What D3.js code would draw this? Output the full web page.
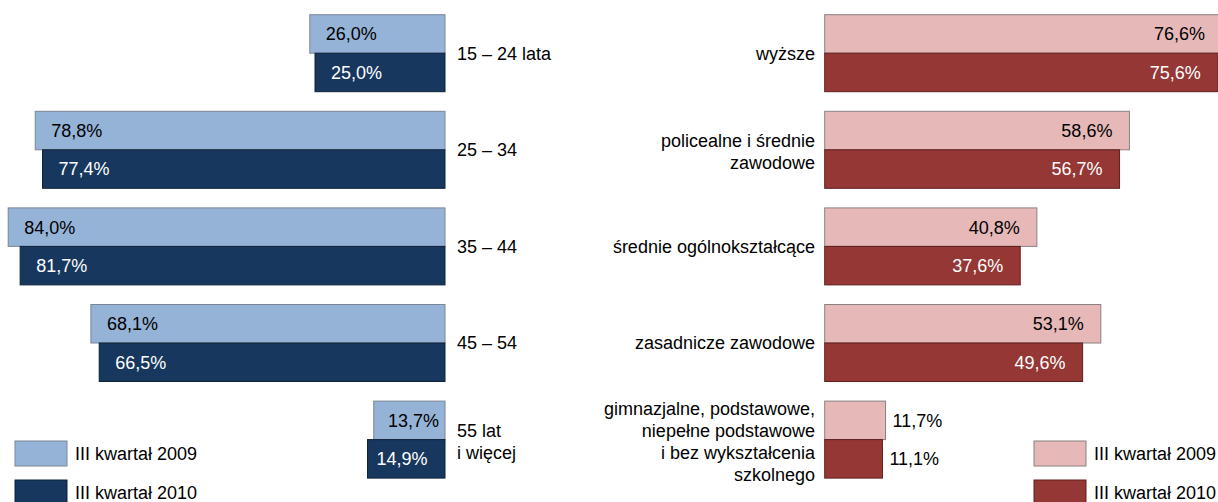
<!DOCTYPE html>
<html>
<head>
<meta charset="utf-8">
<script src="https://cdn.jsdelivr.net/npm/d3@7"></script>
<style>
  html, body { margin: 0; padding: 0; background: #fff; }
  svg { display: block; }
  text { font-family: "Liberation Sans", Arial, sans-serif; font-size: 18px; }
</style>
</head>
<body>
<svg id="chart" width="1218" height="502"></svg>
<script>
// ---- data ----
const ageCategories = ["15 – 24 lata", "25 – 34", "35 – 44", "45 – 54", "55 lat\ni więcej"];
const age2009 = [26.0, 78.8, 84.0, 68.1, 13.7];
const age2010 = [25.0, 77.4, 81.7, 66.5, 14.9];

const eduCategories = [
  "wyższe",
  "policealne i średnie\nzawodowe",
  "średnie ogólnokształcące",
  "zasadnicze zawodowe",
  "gimnazjalne, podstawowe,\nniepełne podstawowe\ni bez wykształcenia\nszkolnego"
];
const edu2009 = [76.6, 58.6, 40.8, 53.1, 11.7];
const edu2010 = [75.6, 56.7, 37.6, 49.6, 11.1];

const seriesNames = ["III kwartał 2009", "III kwartał 2010"];

// ---- styles ----
const leftFill = ["#95b3d7", "#17375e"];
const leftStroke = ["#7a8596", "#0e2238"];
const rightFill = ["#e6b9b8", "#953735"];
const rightStroke = ["#8a8080", "#5e1f1e"];
const labelColor = ["#000", "#fff"];

const svg = d3.select("#chart");
const fmt = v => d3.format(".1f")(v).replace(".", ",") + "%";

const y = d3.scaleBand().domain(d3.range(5)).range([4.9, 487.9])
  .paddingInner(0.203).paddingOuter(0.1015);
const ySub = d3.scaleBand().domain([0, 1]).range([0, y.bandwidth()]);

const xL = d3.scaleLinear().domain([0, 100]).range([445, 445 - 520]);
const xR = d3.scaleLinear().domain([0, 100]).range([824.7, 824.7 + 520]);

const baseShift = 6.4;

function drawPanel(side, cats, s1, s2) {
  const x = side === "left" ? xL : xR;
  const fill = side === "left" ? leftFill : rightFill;
  const stroke = side === "left" ? leftStroke : rightStroke;
  const series = [s1, s2];
  const g = svg.append("g");

  series.forEach((vals, si) => {
    const rows = vals.map((v, i) => ({ v, i }));
    g.selectAll(null).data(rows).enter().append("rect")
      .attr("x", d => Math.min(x(0), x(d.v)))
      .attr("y", d => y(d.i) + ySub(si))
      .attr("width", d => Math.abs(x(d.v) - x(0)))
      .attr("height", ySub.bandwidth())
      .attr("fill", fill[si])
      .attr("stroke", stroke[si])
      .attr("stroke-width", 1);

    g.selectAll(null).data(rows).enter().append("text")
      .attr("y", d => y(d.i) + ySub(si) + ySub.bandwidth() / 2 + baseShift)
      .each(function (d) {
        const t = d3.select(this);
        const w = Math.abs(x(d.v) - x(0));
        if (side === "left") {
          if (w < 100) {
            if (si === 0) t.attr("x", x(0) - 6).attr("text-anchor", "end");
            else t.attr("x", x(d.v) + 9).attr("text-anchor", "start");
            t.attr("fill", labelColor[si]);
          } else {
            t.attr("x", x(d.v) + 16).attr("text-anchor", "start").attr("fill", labelColor[si]);
          }
        } else {
          if (w < 100) {
            t.attr("x", x(d.v) + 7).attr("text-anchor", "start").attr("fill", "#000");
          } else {
            t.attr("x", Math.min(x(d.v), 1222) - 17).attr("text-anchor", "end").attr("fill", labelColor[si]);
          }
        }
      })
      .text(d => fmt(d.v));
  });

  // category labels
  const lineH = 22;
  cats.forEach((c, i) => {
    const lines = c.split("\n");
    const cy = y(i) + y.bandwidth() / 2 + (lines.length > 1 ? 2 : 0);
    const t = g.append("text")
      .attr("text-anchor", side === "left" ? "start" : "end")
      .attr("fill", "#000");
    lines.forEach((ln, li) => {
      t.append("tspan")
        .attr("x", side === "left" ? 457 : 815)
        .attr("y", cy + (li - (lines.length - 1) / 2) * lineH + baseShift)
        .text(ln);
    });
  });
}

drawPanel("left", ageCategories, age2009, age2010);
drawPanel("right", eduCategories, edu2009, edu2010);

// legends
function legend(x0, fill, stroke) {
  const g = svg.append("g");
  const ys = [441, 480];
  seriesNames.forEach((n, i) => {
    g.append("rect").attr("x", x0).attr("y", ys[i]).attr("width", 52).attr("height", 25)
      .attr("fill", fill[i]).attr("stroke", stroke[i]);
    g.append("text").attr("x", x0 + 60).attr("y", ys[i] + 12.5 + baseShift).attr("fill", "#000").text(n);
  });
}
legend(15, leftFill, leftStroke);
legend(1034, rightFill, rightStroke);
</script>
</body>
</html>
